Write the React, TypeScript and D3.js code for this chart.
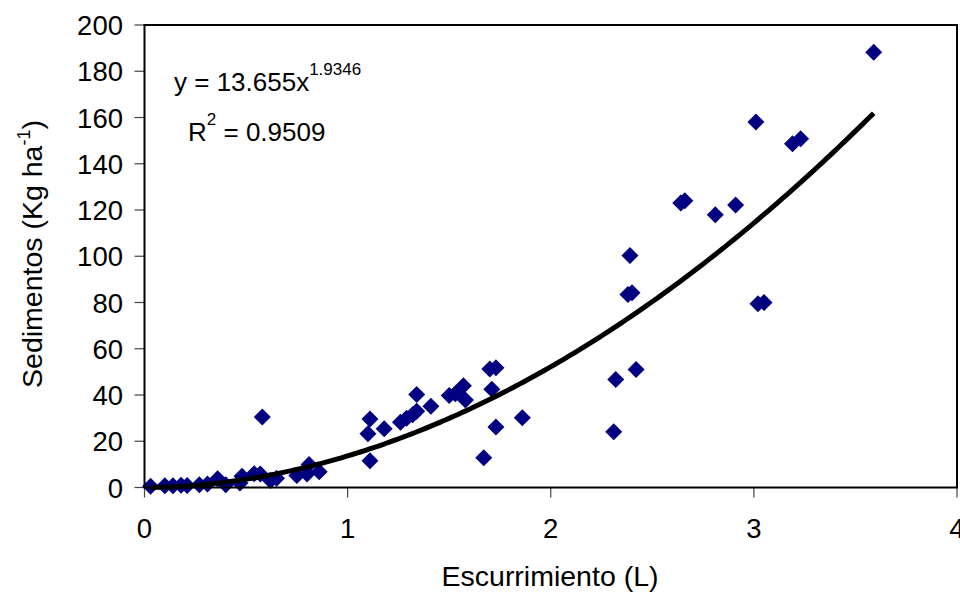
import React from "react";
import * as d3 from "d3";

const runoff: number[] = [
  0.03, 0.10, 0.14, 0.18, 0.21, 0.27, 0.31, 0.36, 0.40, 0.47,
  0.48, 0.54, 0.57, 0.58, 0.62, 0.65, 0.75, 0.81, 0.80, 0.86,
  1.10, 1.11, 1.11, 1.18, 1.26, 1.29, 1.32, 1.34, 1.34, 1.41,
  1.50, 1.53, 1.57, 1.58, 1.67, 1.70, 1.73, 1.71, 1.73, 1.86,
  2.31, 2.32, 2.39, 2.38, 2.40, 2.42, 2.64, 2.66, 2.81, 2.91,
  3.01, 3.02, 3.05, 3.19, 3.23, 3.59,
];
const sediment: number[] = [
  0.5, 0.8, 0.8, 1.0, 0.9, 1.2, 1.5, 3.8, 1.2, 2.0,
  4.9, 6.0, 5.8, 30.5, 3.0, 4.0, 5.2, 10.0, 5.8, 6.8,
  23.2, 29.6, 11.6, 25.4, 28.2, 30.0, 31.5, 33.0, 40.2, 35.1,
  39.8, 40.5, 44.0, 37.8, 12.9, 51.2, 51.8, 42.5, 26.2, 30.2,
  24.1, 46.7, 100.3, 83.5, 84.2, 51.0, 123.0, 124.0, 117.9, 122.2,
  158.1, 79.5, 80.0, 148.6, 150.8, 188.2,
];
const xTicks: number[] = [0, 1, 2, 3, 4];
const yTicks: number[] = [0, 20, 40, 60, 80, 100, 120, 140, 160, 180, 200];
const fitCoef = 13.655;
const fitExp = 1.9346;
const fitRange: [number, number] = [0.03, 3.59];

const W = 960;
const H = 592;
const left = 144.5;
const right = 957;
const top = 25;
const bottom = 487.5;
const font = "'Liberation Sans', Arial, sans-serif";

export default function App() {
  const x = d3.scaleLinear().domain([0, 4]).range([left, right]);
  const y = d3.scaleLinear().domain([0, 200]).range([bottom, top]);

  const n = 200;
  const curvePts: [number, number][] = d3.range(n + 1).map((i) => {
    const xv = fitRange[0] + ((fitRange[1] - fitRange[0]) * i) / n;
    return [xv, fitCoef * Math.pow(xv, fitExp)];
  });
  const line = d3
    .line<[number, number]>()
    .x((d) => x(d[0]))
    .y((d) => y(d[1]));

  const r = 8.5;
  const diamond = `M0,${-r}L${r},0L0,${r}L${-r},0Z`;

  return (
    <svg
      width={W}
      height={H}
      style={{ position: "absolute", left: 0, top: 0, background: "#fff" }}
      fontFamily={font}
    >
      <rect x={0} y={0} width={W} height={H} fill="#fff" />
      {yTicks.map((t) => (
        <g key={"y" + t}>
          <line x1={left - 10} x2={left} y1={y(t)} y2={y(t)} stroke="#444" strokeWidth={1.2} />
          <text x={123} y={y(t) + 10} fontSize={27.5} textAnchor="end" fill="#000">
            {t}
          </text>
        </g>
      ))}
      {xTicks.map((t) => (
        <g key={"x" + t}>
          <line x1={x(t)} x2={x(t)} y1={bottom} y2={bottom + 10} stroke="#444" strokeWidth={1.2} />
          <text x={x(t)} y={538} fontSize={27.5} textAnchor="middle" fill="#000">
            {t}
          </text>
        </g>
      ))}
      {runoff.map((xv, i) => (
        <path
          key={"p" + i}
          d={diamond}
          transform={`translate(${x(xv)},${y(sediment[i])})`}
          fill="#000080"
        />
      ))}
      <path d={line(curvePts) || ""} fill="none" stroke="#000" strokeWidth={5} />
      <rect
        x={left}
        y={top}
        width={right - left}
        height={bottom - top}
        fill="none"
        stroke="#000"
        strokeWidth={2}
      />
      <text x={174} y={91} fontSize={26} fill="#000">
        y = 13.655x
        <tspan dy={-16} fontSize={17}>1.9346</tspan>
      </text>
      <text x={188} y={141} fontSize={26} fill="#000">
        R<tspan dy={-16} fontSize={17}>2</tspan>
        <tspan dy={16}> = 0.9509</tspan>
      </text>
      <text x={550} y={586} fontSize={28.5} textAnchor="middle" fill="#000">
        Escurrimiento (L)
      </text>
      <text transform="translate(42,254) rotate(-90)" fontSize={28.5} textAnchor="middle" fill="#000">
        Sedimentos (Kg ha<tspan dy={-12} fontSize={18}>-1</tspan>
        <tspan dy={12}>)</tspan>
      </text>
    </svg>
  );
}
